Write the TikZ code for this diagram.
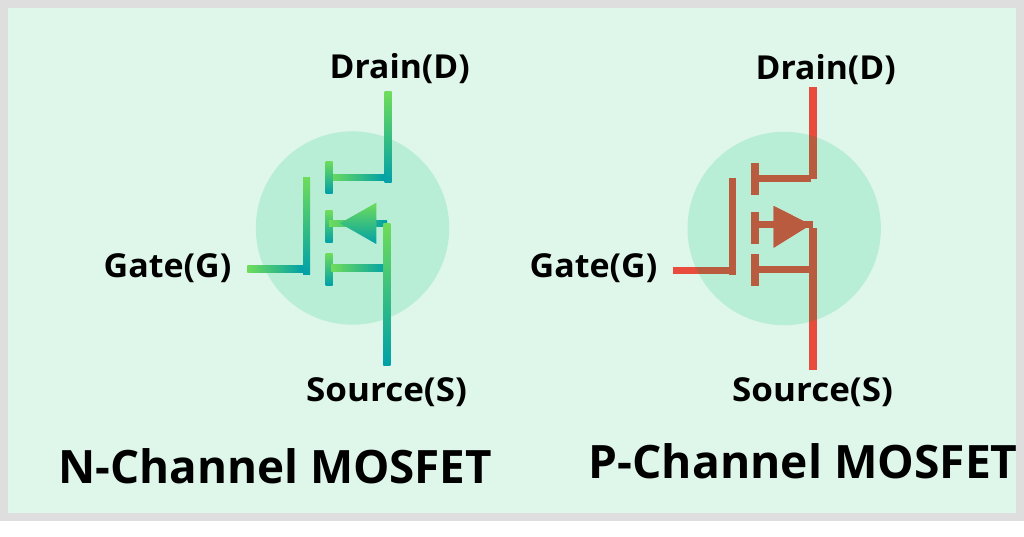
\documentclass[tikz,border=0pt]{standalone}
\usepackage{fontspec}
\usepackage{graphicx}
\setmainfont{Open Sans}
\usetikzlibrary{calc}
\definecolor{framegrey}{HTML}{DEDEDE}
\definecolor{mint}{HTML}{DFF6EA}
\definecolor{disc}{HTML}{B9EED6}
\definecolor{gA}{HTML}{6FDC5A}
\definecolor{gB}{HTML}{00A0A8}
\definecolor{redw}{HTML}{E94B3C}
\definecolor{brownw}{HTML}{B95B3F}
\tikzset{
  lbl/.style={font=\bfseries\fontsize{33}{33}\selectfont,text=black,inner sep=0pt,anchor=base west},
  ttl/.style={font=\bfseries\fontsize{46}{46}\selectfont,text=black,inner sep=0pt,anchor=base west},
  vgrad/.style={top color=gA,bottom color=gB,draw=none},
  hgrad/.style={left color=gA,right color=gB,draw=none}
}
\newcommand{\sx}[2]{\scalebox{#1}[1]{#2}}
\newcommand{\prect}[4]{\fill (#1,#2) rectangle (#3,#4);}
\newcommand{\pwires}{%
  \prect{809.3}{87.3}{816.7}{178.7}
  \prect{758.3}{175.3}{810.7}{182}
  \prect{751.3}{162.7}{758.7}{194.7}
  \prect{729}{178.3}{736}{275.3}
  \prect{673.3}{267.3}{729}{274}
  \prect{751.3}{212}{758.7}{244}
  \prect{758.7}{221.3}{813}{228}
  \fill (773.7,206) -- (810.7,224.7) -- (773.7,247.7) -- cycle;
  \prect{751.3}{254.3}{758.7}{286.3}
  \prect{758.7}{266.3}{809.3}{273}
  \prect{809.3}{228}{816.7}{370}
}
\begin{document}
\begin{tikzpicture}[x=1pt,y=-1pt]
\useasboundingbox (0,0) rectangle (1024,536);
\fill[white] (0,0) rectangle (1024,536);
\fill[framegrey] (0,0) rectangle (1024,520.5);
\fill[mint] (8,8) rectangle (1016,513);
% N-channel
\fill[disc] (352.5,228) circle[radius=96.7];
\shade[vgrad] (384.7,91.7) rectangle (391.7,182.3);
\shade[hgrad] (329,174) rectangle (385,180.7);
\shade[vgrad] (325.7,161) rectangle (332.7,193.3);
\shade[vgrad] (303,177) rectangle (310,274.3);
\shade[hgrad] (247.3,265.7) rectangle (303,272.7);
\shade[vgrad] (325.7,210.7) rectangle (332.7,242.7);
\shade[hgrad] (329,220) rectangle (387,226.7);
\shade[vgrad] (340,223.3) -- (376.3,202.7) -- (376.3,244) -- cycle;
\shade[vgrad] (325.7,253) rectangle (332.7,285);
\shade[hgrad] (331.3,264.3) rectangle (387,271.3);
\shade[vgrad] (383.3,223.3) rectangle (390.3,365);
% P-channel
\fill[disc] (784.2,228.5) circle[radius=96.7];
\begin{scope}[redw]\pwires\end{scope}
\begin{scope}
  \clip (784.2,228.5) circle[radius=96.7];
  \begin{scope}[brownw]\pwires\end{scope}
\end{scope}
% labels
\node[lbl] (nd) at (329.5,78.5) {\sx{1.02}{Drain(D)}};
\node[lbl] (ng) at (103.5,277.5) {\sx{1.03}{Gate(G)}};
\node[lbl] (ns) at (306,401.5) {\sx{1.06}{Source(S)}};
\node[lbl] (pd) at (755.5,79.5) {\sx{1.02}{Drain(D)}};
\node[lbl] (pg) at (529.5,277.5) {\sx{1.03}{Gate(G)}};
\node[lbl] (ps) at (732,401.5) {\sx{1.06}{Source(S)}};
\node[ttl] (nt) at (58,483.5) {\sx{0.995}{N-Channel MOSFET}};
\node[ttl] (pt) at (588.5,478) {\sx{1.003}{P-Channel MOSFET}};
\end{tikzpicture}
\end{document}
